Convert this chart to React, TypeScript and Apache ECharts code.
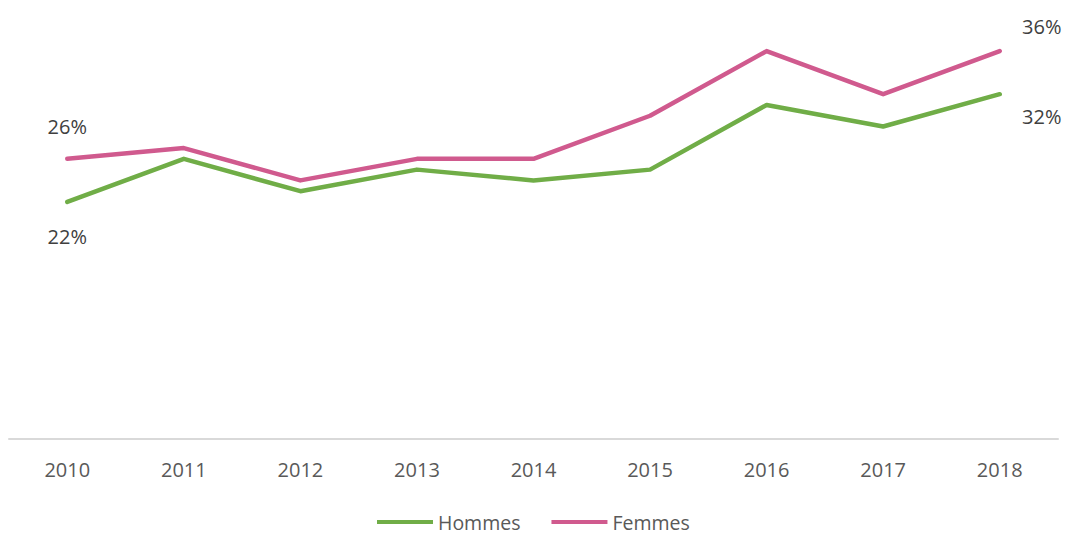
import React, { useEffect, useRef } from "react";
import * as echarts from "echarts";

const years = ["2010", "2011", "2012", "2013", "2014", "2015", "2016", "2017", "2018"];
const hommes = [22, 26, 23, 25, 24, 25, 31, 29, 32];
const femmes = [26, 27, 24, 26, 26, 30, 36, 32, 36];

const FONT = "'Open Sans', 'Noto Sans', sans-serif";

function withLabels(values: number[], first: [number, number], last: [number, number]) {
  return values.map((v, i) => {
    if (i === 0 || i === values.length - 1) {
      const off = i === 0 ? first : last;
      return {
        value: v,
        label: {
          show: true,
          position: "inside",
          offset: off,
          formatter: "{c}%",
          color: "#404040",
          fontSize: 20,
          fontFamily: FONT,
        },
      };
    }
    return { value: v };
  });
}

export default function App() {
  const ref = useRef<HTMLDivElement>(null);
  useEffect(() => {
    document.body.style.margin = "0";
    const chart = echarts.init(ref.current!, undefined, { renderer: "svg" });
    chart.setOption({
      animation: false,
      backgroundColor: "#ffffff",
      grid: { left: 9, right: 7, top: 8, bottom: 95, containLabel: false },
      legend: {
        left: 377,
        top: 512,
        padding: 0,
        icon: "rect",
        itemWidth: 56,
        itemHeight: 4,
        itemGap: 31,
        textStyle: { color: "#595959", fontSize: 19.5, fontFamily: FONT, lineHeight: 20 },
        data: ["Hommes", "Femmes"],
      },
      xAxis: {
        type: "category",
        data: years,
        boundaryGap: true,
        axisLine: { lineStyle: { color: "#D9D9D9", width: 2 } },
        axisTick: { show: false },
        axisLabel: { color: "#595959", fontSize: 20, fontFamily: FONT, margin: 20 },
      },
      yAxis: {
        type: "value",
        min: 0,
        max: 40,
        show: false,
        splitLine: { show: false },
      },
      series: [
        {
          name: "Hommes",
          type: "line",
          data: withLabels(hommes, [0, 35], [42, 22]),
          symbol: "circle",
          symbolSize: 0.01,
          showSymbol: true,
          lineStyle: { color: "#70AD47", width: 4.5, cap: "round", join: "round" },
          itemStyle: { color: "#70AD47" },
          label: { show: false },
        },
        {
          name: "Femmes",
          type: "line",
          data: withLabels(femmes, [0, -32], [42, -25]),
          symbol: "circle",
          symbolSize: 0.01,
          showSymbol: true,
          lineStyle: { color: "#D05A8E", width: 4.5, cap: "round", join: "round" },
          itemStyle: { color: "#D05A8E" },
          label: { show: false },
        },
      ],
    });
    return () => chart.dispose();
  }, []);
  return (
    <div
      ref={ref}
      style={{ position: "absolute", left: 0, top: 0, width: 1065, height: 534 }}
    />
  );
}
